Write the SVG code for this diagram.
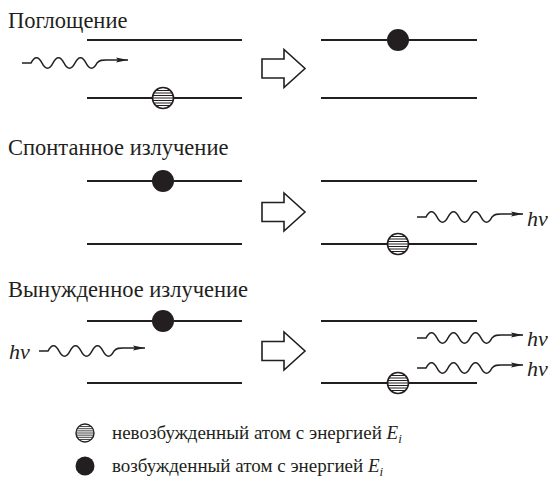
<svg xmlns="http://www.w3.org/2000/svg" width="554" height="478" viewBox="0 0 554 478">
<defs>
<style>
.tt{font-family:'Liberation Serif',serif;fill:#231f20}
.title{font-size:22.5px}
.leg{font-size:19px}
.hv{font-size:22px;font-style:italic}
.lvl{stroke:#231f20;stroke-width:1.8;fill:none}
.wave{stroke:#231f20;stroke-width:1.6;fill:none}
.blk{stroke:#231f20;stroke-width:1.6;fill:#fff}
.full{fill:#231f20}
.hatl{stroke:#231f20;stroke-width:1}
.ring{fill:none;stroke:#231f20;stroke-width:1.6}
</style>
<marker id="ah" viewBox="0 0 12 6" refX="12" refY="3" markerWidth="12" markerHeight="6" markerUnits="userSpaceOnUse" orient="auto">
<path d="M0,0.6 L12,3 L0,5.4 L2,3 Z" fill="#231f20"/>
</marker>
<clipPath id="cc"><circle cx="0" cy="0" r="10.5"/></clipPath>
<g id="hat">
<circle cx="0" cy="0" r="10.5" fill="#fff"/>
<path clip-path="url(#cc)" class="hatl" d="M-12,-7.5H12M-12,-5H12M-12,-2.5H12M-12,0H12M-12,2.5H12M-12,5H12M-12,7.5H12"/>
<circle cx="0" cy="0" r="10.5" class="ring"/>
</g>
</defs>

<g id="titles">
<text class="tt title" font-family="Liberation Serif" x="8" y="28">Поглощение</text>
<text class="tt title" font-family="Liberation Serif" x="8" y="155">Спонтанное излучение</text>
<text class="tt title" font-family="Liberation Serif" x="8" y="297">Вынужденное излучение</text>
</g>

<g id="absorption-before">
<line class="lvl" x1="87" y1="40" x2="242" y2="40"/>
<line class="lvl" x1="87" y1="98" x2="242" y2="98"/>
<use href="#hat" transform="translate(163,98)"/>
</g>
<g id="absorption-after">
<line class="lvl" x1="321" y1="40" x2="477" y2="40"/>
<line class="lvl" x1="321" y1="98" x2="477" y2="98"/>
<circle class="full" cx="398" cy="40" r="11"/>
</g>

<g id="spontaneous-before">
<line class="lvl" x1="87" y1="181" x2="242" y2="181"/>
<line class="lvl" x1="87" y1="244" x2="242" y2="244"/>
<circle class="full" cx="163" cy="181" r="11"/>
</g>
<g id="spontaneous-after">
<line class="lvl" x1="321" y1="181" x2="477" y2="181"/>
<line class="lvl" x1="321" y1="244" x2="477" y2="244"/>
<use href="#hat" transform="translate(398,244)"/>
<text class="tt hv" font-family="Liberation Serif" x="527" y="226">hν</text>
</g>

<g id="stimulated-before">
<line class="lvl" x1="87" y1="321" x2="242" y2="321"/>
<line class="lvl" x1="87" y1="383" x2="242" y2="383"/>
<circle class="full" cx="163" cy="321" r="11"/>
<text class="tt hv" font-family="Liberation Serif" x="9" y="359">hν</text>
</g>
<g id="stimulated-after">
<line class="lvl" x1="321" y1="321" x2="477" y2="321"/>
<line class="lvl" x1="321" y1="383" x2="477" y2="383"/>
<use href="#hat" transform="translate(398,383)"/>
<text class="tt hv" font-family="Liberation Serif" x="527" y="346">hν</text>
<text class="tt hv" font-family="Liberation Serif" x="527" y="376">hν</text>
</g>

<g id="connectors">
<path class="blk" d="M262,59 H284 V49.5 L305,68.5 L284,87.5 V78 H262 Z"/>
<path class="blk" d="M262,202.5 H284 V193 L305,212 L284,231 V221.5 H262 Z"/>
<path class="blk" d="M262,341.5 H284 V332 L305,351 L284,370 V360.5 H262 Z"/>
<path class="wave" marker-end="url(#ah)" d="M22,63 h9 c3.6,-7 7.4,-7 11,0 c3.6,7 7.4,7 11,0 c3.6,-7 7.4,-7 11,0 c3.6,7 7.4,7 11,0 c3.6,-7 7.4,-7 11,0 c3.6,7 7.4,7 11,0 c3,-3 5,-3 9,-3 h22"/>
<path class="wave" marker-end="url(#ah)" d="M417,217 h9 c3.6,-7 7.4,-7 11,0 c3.6,7 7.4,7 11,0 c3.6,-7 7.4,-7 11,0 c3.6,7 7.4,7 11,0 c3.6,-7 7.4,-7 11,0 c3.6,7 7.4,7 11,0 c3,-3 5,-3 9,-3 h22"/>
<path class="wave" marker-end="url(#ah)" d="M39,351 h9 c3.6,-7 7.4,-7 11,0 c3.6,7 7.4,7 11,0 c3.6,-7 7.4,-7 11,0 c3.6,7 7.4,7 11,0 c3.6,-7 7.4,-7 11,0 c3.6,7 7.4,7 11,0 c3,-3 5,-3 9,-3 h22"/>
<path class="wave" marker-end="url(#ah)" d="M417,338 h9 c3.6,-7 7.4,-7 11,0 c3.6,7 7.4,7 11,0 c3.6,-7 7.4,-7 11,0 c3.6,7 7.4,7 11,0 c3.6,-7 7.4,-7 11,0 c3.6,7 7.4,7 11,0 c3,-3 5,-3 9,-3 h22"/>
<path class="wave" marker-end="url(#ah)" d="M417,368 h9 c3.6,-7 7.4,-7 11,0 c3.6,7 7.4,7 11,0 c3.6,-7 7.4,-7 11,0 c3.6,7 7.4,7 11,0 c3.6,-7 7.4,-7 11,0 c3.6,7 7.4,7 11,0 c3,-3 5,-3 9,-3 h22"/>
</g>

<g id="legend">
<use href="#hat" transform="translate(85,433) scale(0.86)"/>
<circle class="full" cx="85" cy="466" r="9.5"/>
<text class="tt leg" font-family="Liberation Serif" x="112" y="439">невозбужденный атом с энергией <tspan font-style="italic">E</tspan><tspan font-style="italic" font-size="13" dy="4">i</tspan></text>
<text class="tt leg" font-family="Liberation Serif" x="112" y="472">возбужденный атом с энергией <tspan font-style="italic">E</tspan><tspan font-style="italic" font-size="13" dy="4">i</tspan></text>
</g>
</svg>
